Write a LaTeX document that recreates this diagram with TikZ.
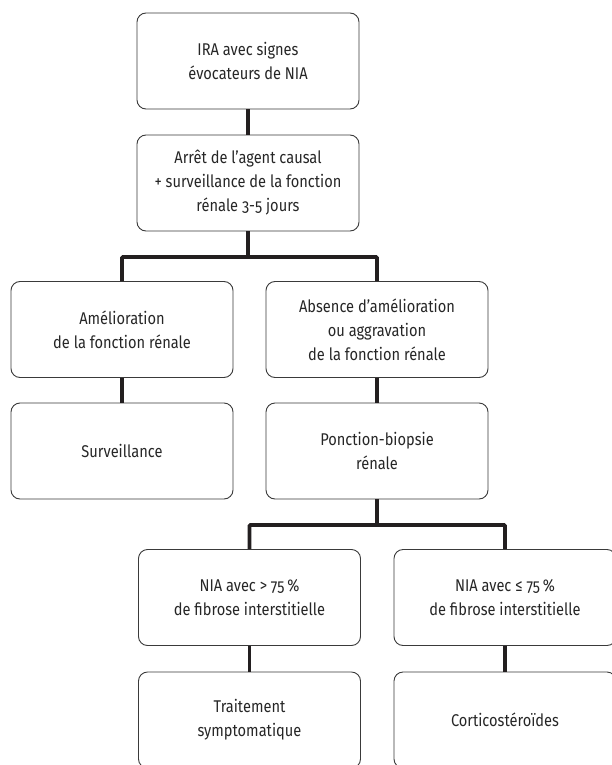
\documentclass[tikz,border=0pt]{standalone}
\usepackage{fontspec}
\setmainfont{Fira Sans}[Numbers=OldStyle, FakeStretch=0.86]
\usepackage{xcolor}
\usepackage{tikz}
\definecolor{trait}{HTML}{231F20}
\definecolor{cadre}{HTML}{3A3A3A}

\begin{document}
\begin{tikzpicture}[x=1pt, y=1pt,
    every node/.style={draw=cadre, line width=0.9pt, rounded corners=9pt, align=center,
      minimum width=222pt, minimum height=96pt, text=black!85,
      font=\fontsize{17}{24}\selectfont},
    lien/.style={draw=trait, line width=3.6pt, rounded corners=1pt}]
     \useasboundingbox (0,0) rectangle (612,-765);
     \node (ira) at (248, -61) {IRA avec signes\\évocateurs de NIA};
     \node (arret) at (248, -183) {Arrêt de l’agent causal\\+ surveillance de la fonction\\rénale 3-5 jours};
     \node (amelio) at (122, -329.5) {Amélioration\\de la fonction rénale};
     \node (absence) at (377, -329.5) {Absence d’amélioration\\ou aggravation\\de la fonction rénale};
     \node (surv) at (122, -451) {Surveillance};
     \node (pbr) at (377, -451) {Ponction-biopsie\\rénale};
     \node (fibhaut) at (249.5, -597.5) {NIA avec > 75\,\%\\de fibrose interstitielle};
     \node (fibbas) at (505, -597.5) {NIA avec ≤ 75\,\%\\de fibrose interstitielle};
     \node (sympto) at (249.5, -720) {Traitement\\symptomatique};
     \node (cortico) at (505, -720) {Corticostéroïdes};

     \coordinate (b1) at (248, -257);
     \coordinate (b2) at (377, -525);

     \draw[lien] (ira) -- (arret);
     \draw[lien] (arret) -- (b1);
     \draw[lien] (amelio.north) |- (b1) -| (absence.north);
     \draw[lien] (amelio) -- (surv);
     \draw[lien] (absence) -- (pbr);
     \draw[lien] (pbr) -- (b2);
     \draw[lien] (fibhaut.north) |- (b2) -| (fibbas.north);
     \draw[lien] (fibhaut) -- (sympto);
     \draw[lien] (fibbas) -- (cortico);
    \end{tikzpicture}
\end{document}
